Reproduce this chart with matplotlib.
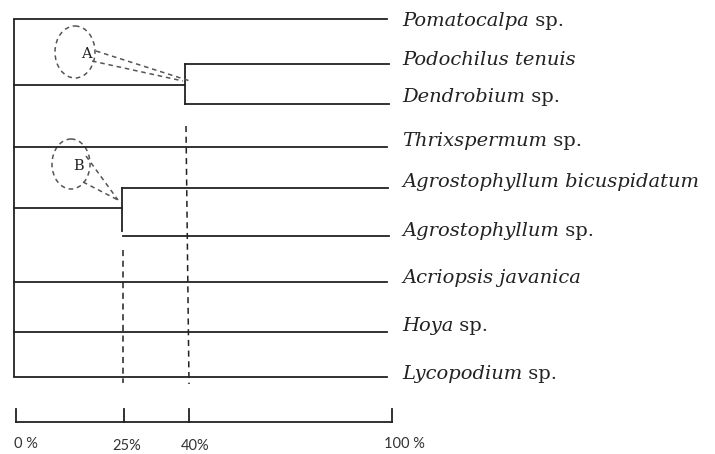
import numpy as np
import matplotlib
matplotlib.use("Agg")
import matplotlib.pyplot as plt
from matplotlib.patches import Ellipse

# ---------------- data ----------------
taxa_italic = ["Pomatocalpa", "Podochilus tenuis", "Dendrobium", "Thrixspermum",
               "Agrostophyllum bicuspidatum", "Agrostophyllum", "Acriopsis javanica",
               "Hoya", "Lycopodium"]
taxa_suffix = [" sp.", "", " sp.", " sp.", "", " sp.", "", " sp.", " sp."]
# similarity (%) at which each cluster joins
cluster_A = {"members": [1, 2], "similarity": 40, "label": "A"}
cluster_B = {"members": [4, 5], "similarity": 25, "label": "B"}
scale_ticks = [0, 25, 40, 100]
scale_labels = ["0 %", "25%", "40%", "100 %"]

# ---------------- layout ----------------
W, H = 715, 454
fig = plt.figure(figsize=(W / 100, H / 100), dpi=100)
ax = fig.add_axes([0, 0, 1, 1])
ax.set_xlim(0, W)
ax.set_ylim(H, 0)
ax.axis("off")

leaf_y = [19, 64, 104, 147, 188, 236, 282, 332, 377]
label_baseline = [26, 65, 102, 146, 187, 236, 283, 331, 379]
anchor_pct = [0, 25, 40, 100]
dend_px = [14, 122, 185, 387]
scale_px = [16, 124, 189, 392]


def xd(p):
    return np.interp(p, anchor_pct, dend_px)


def xs(p):
    return np.interp(p, anchor_pct, scale_px)


lc = "#222222"
lw = 1.3
x0 = xd(0)
x100 = xd(100)

# root vertical
ax.plot([x0, x0], [leaf_y[0], leaf_y[-1]], color=lc, lw=lw, solid_capstyle="butt")

in_cluster = set(cluster_A["members"]) | set(cluster_B["members"])
for i, y in enumerate(leaf_y):
    if i not in in_cluster:
        ax.plot([x0, x100], [y, y], color=lc, lw=lw)

# cluster A (joined at 40 %)
ax_x = xd(cluster_A["similarity"])
ya = [leaf_y[m] for m in cluster_A["members"]]
yA_mid = 85
ax.plot([x0, ax_x], [yA_mid, yA_mid], color=lc, lw=lw)
ax.plot([ax_x, ax_x], [ya[0], ya[1]], color=lc, lw=lw)
for y in ya:
    ax.plot([ax_x, x100 + 2], [y, y], color=lc, lw=lw)

# cluster B (joined at 25 %)
bx = xd(cluster_B["similarity"])
yb = [leaf_y[m] for m in cluster_B["members"]]
yB_mid = 208
ax.plot([x0, bx], [yB_mid, yB_mid], color=lc, lw=lw)
ax.plot([bx, bx], [yb[0], yb[1] - 5], color=lc, lw=lw)
ax.plot([bx, x100 + 1], [yb[0], yb[0]], color=lc, lw=lw)
ax.plot([bx + 1, x100 + 2], [yb[1], yb[1]], color=lc, lw=lw)

# dashed guide lines
dash = (0, (4, 3))
ax.plot([bx + 1, bx + 1], [250, 383], color=lc, lw=1.1, linestyle=dash)
ax.plot([ax_x + 1, ax_x + 4], [126, 384], color=lc, lw=1.1, linestyle=dash)

# callout circles
gc = "#555555"
cdash = (0, (3, 2.5))
ax.add_patch(Ellipse((75, 52), 40, 52, fill=False, edgecolor=gc, lw=1.1, linestyle=cdash))
ax.text(86, 54, cluster_A["label"], fontsize=10.5, family="DejaVu Serif", ha="center", va="center", color="#222")
ax.plot([96, 190], [51, 81], color=gc, lw=1.1, linestyle=cdash)
ax.plot([92, 183], [61, 81], color=gc, lw=1.1, linestyle=cdash)

ax.add_patch(Ellipse((71, 164), 38, 50, fill=False, edgecolor=gc, lw=1.1, linestyle=cdash))
ax.text(79, 166, cluster_B["label"], fontsize=10.5, family="DejaVu Serif", ha="center", va="center", color="#222")
ax.plot([86, 118], [156, 200], color=gc, lw=1.1, linestyle=cdash)
ax.plot([83, 118], [182, 200], color=gc, lw=1.1, linestyle=cdash)

# taxon labels
fam = "DejaVu Serif"
fs = 14
for name, suf, yb_ in zip(taxa_italic, taxa_suffix, label_baseline):
    t = ax.text(402, yb_, name, fontsize=fs, family=fam, style="italic",
                ha="left", va="baseline", color="#222")
    if suf:
        ax.annotate(suf, xy=(1, 0), xycoords=t, fontsize=fs, family=fam,
                    ha="left", va="bottom", color="#222")

# scale bar
ys = 422
ax.plot([xs(0), xs(100)], [ys, ys], color=lc, lw=lw)
label_dx = [10, 3, 6, 12]
label_y = [444, 446, 446, 444]
for p, lab, dx, ly in zip(scale_ticks, scale_labels, label_dx, label_y):
    ax.plot([xs(p), xs(p)], [ys, 409], color=lc, lw=lw)
    ax.text(xs(p) + dx, ly, lab, fontsize=10.5, family="Lato",
            ha="center", va="center", color="#333")

fig.savefig("out.png", dpi=100)
